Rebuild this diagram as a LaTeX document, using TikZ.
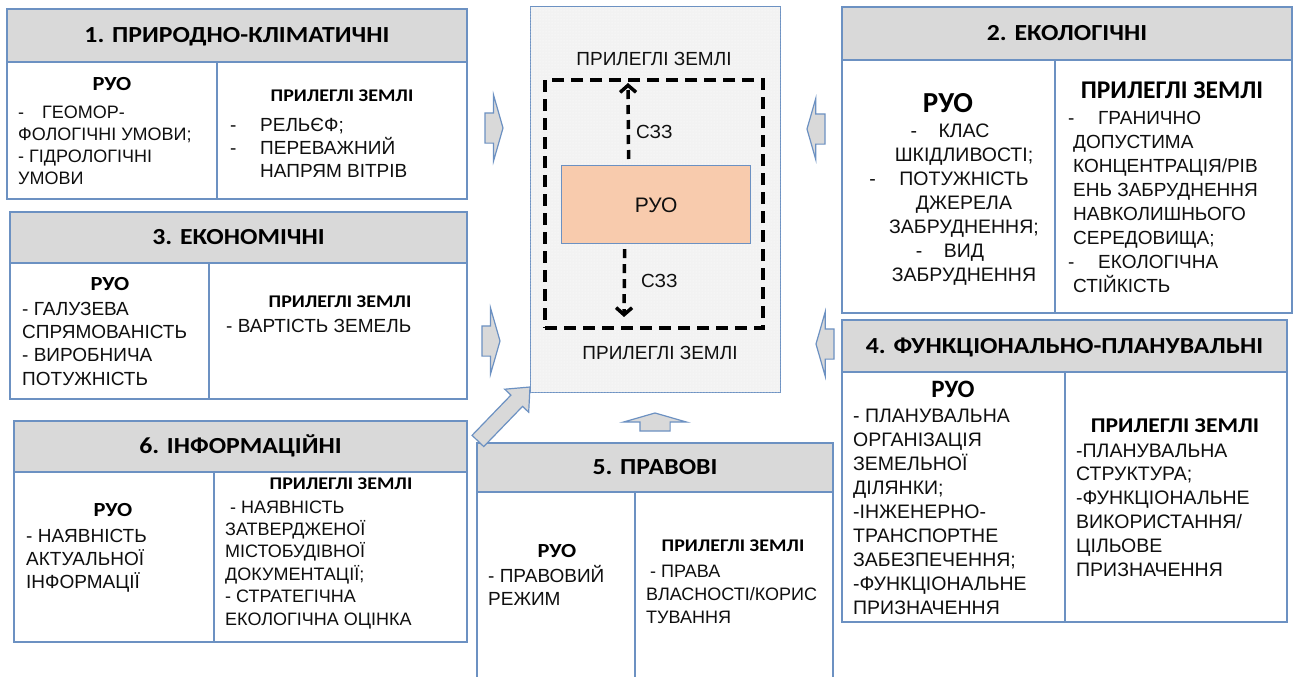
\documentclass[tikz,border=0pt]{standalone}
\usepackage{fontspec}
\setmainfont{Liberation Sans}
\newfontfamily\hdfont{Carlito}
\newfontfamily\hdwide{Carlito}[FakeStretch=1.12]
\usepackage{tikz}
\usetikzlibrary{positioning, arrows.meta, shapes.arrows, patterns}

\definecolor{bordblue}{RGB}{108,145,194}
\definecolor{headgray}{RGB}{217,217,217}
\definecolor{ruoorange}{RGB}{248,203,173}
\definecolor{fieldgray}{RGB}{242,242,242}
\definecolor{txtgray}{RGB}{15,15,15}

\newcommand{\fsz}[2]{\fontsize{#1}{#2}\selectfont}
\newcommand{\itemdash}[1][30pt]{\makebox[#1][l]{-}}

\begin{document}
\begin{tikzpicture}[x=1pt, y=-1pt]

	% Styles
	\tikzset{
		headbox/.style={
			rectangle, draw=bordblue, line width=1.3pt, fill=headgray,
			anchor=north west, inner sep=0, outer sep=0,
			font=\hdwide\bfseries\fsz{23}{27}, text height=14.5pt, text depth=0pt
		},
		cellbox/.style={
			rectangle, draw=bordblue, line width=1.3pt, fill=white,
			anchor=north west, inner sep=0, outer sep=0
		},
		ruotag/.style={inner sep=0, anchor=base, font=\hdwide\bfseries\fsz{20}{23}},
		zemtag/.style={inner sep=0, anchor=base, font=\hdwide\bfseries\fsz{17.8}{21}},
		% base of a list = baseline of its last line
		itemlist/.style={inner sep=0, anchor=base west, align=left, text=txtgray},
		blockarrow/.style={
			single arrow, draw=bordblue, fill=headgray, line width=1.2pt,
			inner xsep=0, inner ysep=14.5pt, outer sep=0, anchor=tip,
			minimum height=18pt, single arrow head extend=18pt, single arrow tip angle=148
		},
		szzline/.style={line width=3.5pt, dash pattern=on 9pt off 6pt, -{Straight Barb[length=7pt, width=16pt]}}
	}

	\path[use as bounding box, fill=white] (0,0) rectangle (1296,677);

	% Centre: land plot and protection zone
	\node (field) [cellbox, line width=1pt, fill=fieldgray, postaction={pattern=dots, pattern color=white},
		minimum width=250pt, minimum height=385pt] at (530,7) {};
	\node (szz) [rectangle, draw=black, line width=3.8pt, dash pattern=on 12pt off 7pt, anchor=north west,
		inner sep=0, outer sep=0, minimum width=218pt, minimum height=248pt] at (545,80) {};
	\node (ruo) [rectangle, draw=bordblue, line width=1.2pt, fill=ruoorange, anchor=north west, inner sep=0,
		minimum width=189pt, minimum height=78pt, font=\fsz{21}{25}, text height=15pt, text depth=0pt,
		text=txtgray] at (561,165) {РУО};
	\node (ptop) [inner sep=0, anchor=base, font=\fsz{19}{23}, text=txtgray] at ([yshift=14pt]szz.north) {ПРИЛЕГЛІ ЗЕМЛІ};
	\node (pbot) [inner sep=0, anchor=base, font=\fsz{19}{23}, text=txtgray] at ([xshift=6pt, yshift=-31pt]szz.south) {ПРИЛЕГЛІ ЗЕМЛІ};
	\node (szz1) [itemlist, font=\fsz{19}{23}] at (636,138) {СЗЗ};
	\node (szz2) [itemlist, font=\fsz{19}{23}] at (641,287) {СЗЗ};
	\draw[szzline] ([xshift=-27.5pt, yshift=6pt]ruo.north) -- ([xshift=-26pt, yshift=-3pt]szz.north);
	\draw[szzline] ([xshift=-31.5pt, yshift=-5pt]ruo.south) -- ([xshift=-30pt, yshift=11pt]szz.south);

	% 1. Natural and climatic
	\node (h1) [headbox, minimum width=460pt, minimum height=53pt] at (7,9) {1. ПРИРОДНО-КЛІМАТИЧНІ};
	\node (c1a) [cellbox, minimum width=210pt, minimum height=137pt] at (h1.south west) {};
	\node (c1b) [cellbox, minimum width=250pt, minimum height=137pt] at (c1a.north east) {};
	\node (ruo1) [ruotag] at (112,90) {РУО};
	\node (l1) [itemlist, font=\fsz{18}{21.8}] at (18,184) {\itemdash[24pt]ГЕОМОР-\\ФОЛОГІЧНІ УМОВИ;\\- ГІДРОЛОГІЧНІ\\УМОВИ};
	\node (zem1) [zemtag] at (342,102) {ПРИЛЕГЛІ ЗЕМЛІ};
	\node (r1) [itemlist, font=\fsz{19}{23}] at (230,177) {\itemdash РЕЛЬЄФ;\\\itemdash ПЕРЕВАЖНИЙ\\\hspace*{30pt}НАПРЯМ ВІТРІВ};

	% 3. Economic
	\node (h3) [headbox, minimum width=457pt, minimum height=51pt] at (10,212) {3. ЕКОНОМІЧНІ};
	\node (c3a) [cellbox, minimum width=199pt, minimum height=136pt] at (h3.south west) {};
	\node (c3b) [cellbox, minimum width=258pt, minimum height=136pt] at (c3a.north east) {};
	\node (ruo3) [ruotag] at (110,290) {РУО};
	\node (l3) [itemlist, font=\fsz{19}{23.3}] at (22,385) {- ГАЛУЗЕВА\\СПРЯМОВАНІСТЬ\\- ВИРОБНИЧА\\ПОТУЖНІСТЬ};
	\node (zem3) [zemtag] at (340,307) {ПРИЛЕГЛІ ЗЕМЛІ};
	\node (r3) [itemlist, font=\fsz{19}{23}] at (226,332) {- ВАРТІСТЬ ЗЕМЕЛЬ};

	% 6. Information
	\node (h6) [headbox, minimum width=453pt, minimum height=51pt] at (14,421) {6. ІНФОРМАЦІЙНІ};
	\node (c6a) [cellbox, minimum width=200pt, minimum height=170pt] at (h6.south west) {};
	\node (c6b) [cellbox, minimum width=253pt, minimum height=170pt] at (c6a.north east) {};
	\node (ruo6) [ruotag] at (113,516) {РУО};
	\node (l6) [itemlist, font=\fsz{19}{23}] at (26,588) {- НАЯВНІСТЬ\\АКТУАЛЬНОЇ\\ІНФОРМАЦІЇ};
	\node (zem6) [zemtag] at (341,489) {ПРИЛЕГЛІ ЗЕМЛІ};
	\node (r6) [itemlist, font=\fsz{18}{22.4}] at (225,625) {\hspace*{5pt}- НАЯВНІСТЬ\\ЗАТВЕРДЖЕНОЇ\\МІСТОБУДІВНОЇ\\ДОКУМЕНТАЦІЇ;\\- СТРАТЕГІЧНА\\ЕКОЛОГІЧНА ОЦІНКА};

	% 5. Legal
	\node (h5) [headbox, minimum width=356pt, minimum height=49pt] at (477,443) {5. ПРАВОВІ};
	\node (c5a) [cellbox, minimum width=158pt, minimum height=200pt] at (h5.south west) {};
	\node (c5b) [cellbox, minimum width=198pt, minimum height=200pt] at (c5a.north east) {};
	\node (ruo5) [ruotag] at (557,557) {РУО};
	\node (l5) [itemlist, font=\fsz{19}{23}] at (488,605) {- ПРАВОВИЙ\\РЕЖИМ};
	\node (zem5) [zemtag] at (733,551) {ПРИЛЕГЛІ ЗЕМЛІ};
	\node (r5) [itemlist, font=\fsz{18}{23}] at (646,623) {\hspace*{4pt}- ПРАВА\\ВЛАСНОСТІ/КОРИС\\ТУВАННЯ};

	% 2. Ecological
	\node (h2) [headbox, minimum width=450pt, minimum height=53pt] at (842,7) {2. ЕКОЛОГІЧНІ};
	\node (c2a) [cellbox, minimum width=213pt, minimum height=253pt] at (h2.south west) {};
	\node (c2b) [cellbox, minimum width=237pt, minimum height=253pt] at (c2a.north east) {};
	\node (ruo2) [ruotag, font=\hdfont\bfseries\fsz{29}{32}] at (948,112) {РУО};
	\node (l2) [itemlist, align=center, anchor=base, font=\fsz{19.5}{24}] at (964,281)
		{\llap{\itemdash[28pt]}КЛАС\\ШКІДЛИВОСТІ;\\\llap{\itemdash[30pt]}ПОТУЖНІСТЬ\\ДЖЕРЕЛА\\ЗАБРУДНЕННЯ;\\\llap{\itemdash[28pt]}ВИД\\ЗАБРУДНЕННЯ};
	\node (zem2) [zemtag, font=\hdfont\bfseries\fsz{25.5}{30}] at (1172,99) {ПРИЛЕГЛІ ЗЕМЛІ};
	\node (r2) [itemlist, font=\fsz{19}{23.9}] at (1073,292)
		{\hspace*{-5pt}\itemdash ГРАНИЧНО\\ДОПУСТИМА\\КОНЦЕНТРАЦІЯ/РІВ\\ЕНЬ ЗАБРУДНЕННЯ\\НАВКОЛИШНЬОГО\\СЕРЕДОВИЩА;\\\hspace*{-5pt}\itemdash ЕКОЛОГІЧНА\\СТІЙКІСТЬ};

	% 4. Functional and planning
	\node (h4) [headbox, minimum width=445pt, minimum height=52pt] at (842,320) {4. ФУНКЦІОНАЛЬНО-ПЛАНУВАЛЬНІ};
	\node (c4a) [cellbox, minimum width=223pt, minimum height=250pt] at (h4.south west) {};
	\node (c4b) [cellbox, minimum width=222pt, minimum height=250pt] at (c4a.north east) {};
	\node (ruo4) [ruotag, font=\hdfont\bfseries\fsz{25}{28}] at (953,397) {РУО};
	\node (l4) [itemlist, font=\fsz{19.5}{23.9}] at (853,614)
		{- ПЛАНУВАЛЬНА\\ОРГАНІЗАЦІЯ\\ЗЕМЕЛЬНОЇ\\ДІЛЯНКИ;\\-ІНЖЕНЕРНО-\\ТРАНСПОРТНЕ\\ЗАБЕЗПЕЧЕННЯ;\\-ФУНКЦІОНАЛЬНЕ\\ПРИЗНАЧЕННЯ};
	\node (zem4) [zemtag, font=\hdwide\bfseries\fsz{21}{25}] at (1175,432) {ПРИЛЕГЛІ ЗЕМЛІ};
	\node (r4) [itemlist, font=\fsz{19.5}{23.8}] at (1076,576)
		{-ПЛАНУВАЛЬНА\\СТРУКТУРА;\\-ФУНКЦІОНАЛЬНЕ\\ВИКОРИСТАННЯ/\\ЦІЛЬОВЕ\\ПРИЗНАЧЕННЯ};

	% Block arrows towards the plot
	\node (a1) [blockarrow] at (503,128) {};
	\node (a3) [blockarrow] at (500,341) {};
	\node (a2) [blockarrow, rotate=180, single arrow head extend=15.5pt] at (807,129) {};
	\node (a4) [blockarrow, rotate=180, single arrow head extend=17pt] at (816,344) {};
	\node (a5) [blockarrow, rotate=90, single arrow head extend=16.5pt] at ([yshift=30pt]h5.north) {};
	\node (a6) [blockarrow, rotate=46, inner ysep=7.5pt, single arrow head extend=8.5pt,
		single arrow tip angle=82, minimum height=75pt] at ([yshift=5pt]field.south west) {};

\end{tikzpicture}
\end{document}
